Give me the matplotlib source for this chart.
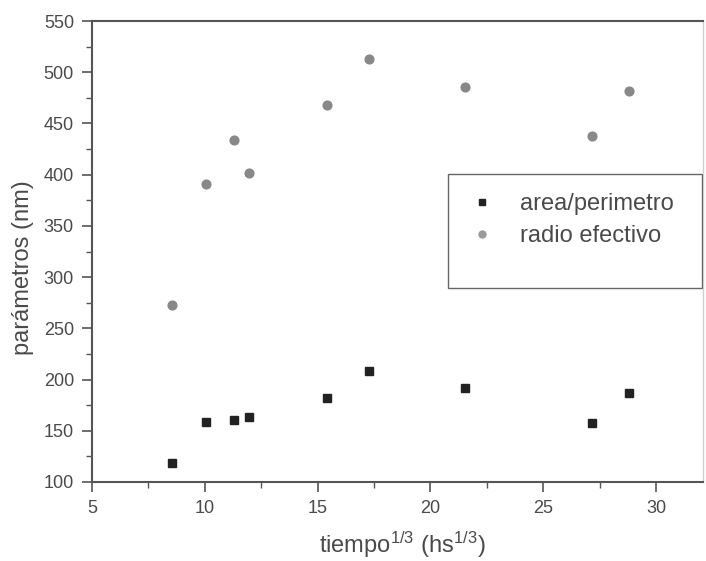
import matplotlib
matplotlib.use("Agg")
import matplotlib.pyplot as plt
from matplotlib.patches import Rectangle
from matplotlib.lines import Line2D
from matplotlib.ticker import MultipleLocator

plt.rcParams['font.family'] = ['Liberation Sans', 'DejaVu Sans']
plt.rcParams['mathtext.fontset'] = 'custom'
plt.rcParams['mathtext.rm'] = 'Liberation Sans'
plt.rcParams['mathtext.it'] = 'Liberation Sans'

tiempo = [8.55, 10.05, 11.3, 11.95, 15.4, 17.27, 21.55, 27.18, 28.78]
area_perimetro = [118.5, 158.9, 160.5, 163.2, 182, 208.7, 191.5, 157.3, 187.2]
radio_efectivo = [272.8, 390.6, 434.2, 401.6, 467.7, 513.2, 485.3, 438, 482]
labels = ["area/perimetro", "radio efectivo"]

txt = '#4a4a4a'
spc = '#555555'

fig = plt.figure(figsize=(7.06, 5.61), dpi=100)
ax = fig.add_axes([92/706, 79/561, (703-92)/706, 461/561])

ax.plot(tiempo, area_perimetro, ls='none', marker='s', ms=6.3, color='#222222', mec='#222222')
ax.plot(tiempo, radio_efectivo, ls='none', marker='o', ms=6.3, color='#888888', mec='#888888')

ax.set_xlim(5, 32.08)
ax.set_ylim(100, 550)
ax.xaxis.set_major_locator(MultipleLocator(5))
ax.xaxis.set_minor_locator(MultipleLocator(2.5))
ax.yaxis.set_major_locator(MultipleLocator(50))
ax.yaxis.set_minor_locator(MultipleLocator(25))

for s in ['left', 'bottom', 'top']:
    ax.spines[s].set_color(spc)
    ax.spines[s].set_linewidth(1.5)
ax.spines['right'].set_color('#cfcfcf')
ax.spines['right'].set_linewidth(1.0)

ax.tick_params(which='major', direction='out', length=7, width=1.2, color=spc,
               labelsize=13, labelcolor=txt, pad=6)
ax.tick_params(which='minor', direction='out', length=4, width=1.0, color=spc)
ax.tick_params(top=False, right=False, which='both')

ax.set_xlabel(r'tiempo$^{1/3}$ (hs$^{1/3}$)', fontsize=17, color=txt)
ax.set_ylabel('parámetros (nm)', fontsize=17, color=txt)
ax.xaxis.set_label_coords((402-92)/611, -(530-482)/461)
ax.yaxis.set_label_coords((34-92)/611, (482-268)/461)

# legend box
x0 = (448-92)/611
x1 = (702-92)/611
y0 = (482-288)/461
y1 = (482-174)/461
ax.add_patch(Rectangle((x0, y0), x1-x0, y1-y0, transform=ax.transAxes,
                       fill=False, ec='#666666', lw=1.0, zorder=5))
handles = [Line2D([], [], ls='none', marker='s', ms=5, color='#222222'),
           Line2D([], [], ls='none', marker='o', ms=5, color='#999999')]
leg = ax.legend(handles, labels, loc='upper left',
                bbox_to_anchor=((447-92)/611, (482-181)/461),
                frameon=False, fontsize=17, borderpad=0, handlelength=2.0,
                handletextpad=0.6, labelspacing=0.45, labelcolor=txt)

fig.savefig('out.png', dpi=100)
